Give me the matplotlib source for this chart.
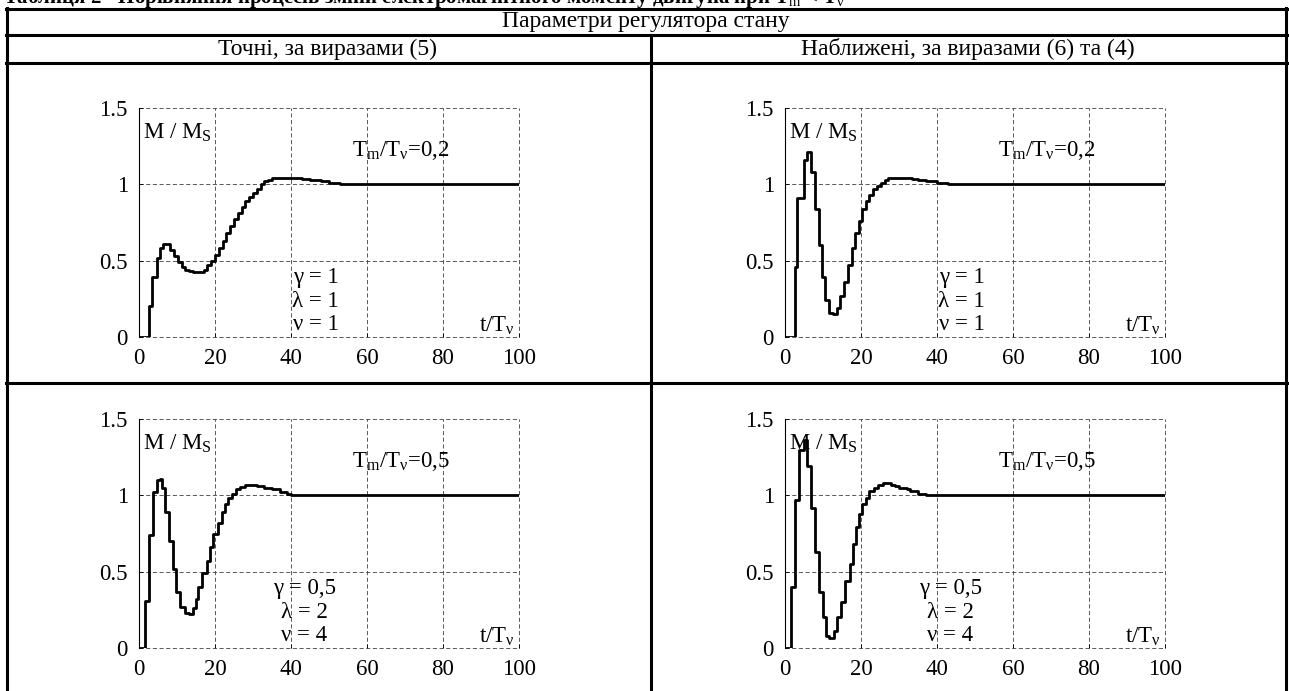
import matplotlib
matplotlib.use('Agg')
import matplotlib.pyplot as plt
from matplotlib.lines import Line2D

plt.rcParams['font.family'] = ['Liberation Serif', 'DejaVu Serif']
plt.rcParams['mathtext.fontset'] = 'custom'
plt.rcParams['mathtext.rm'] = 'Liberation Serif'
plt.rcParams['mathtext.it'] = 'Liberation Serif:italic'

W, H = 1289, 691

# --- data (t/T_v, M/M_S), staircase samples ---
t_exact_1 = [0, 2.7, 3.5, 4.7, 5.4, 6.2, 8.2, 9.2, 10.2, 11.2, 12.2, 13.2, 14.2, 17, 18, 19, 20, 21, 22, 23,
             24, 25, 26, 27, 28, 29, 30, 31, 32, 33, 34, 35, 43, 45, 48, 50, 53, 56, 78, 100]
m_exact_1 = [0, 0.2, 0.39, 0.52, 0.58, 0.61, 0.57, 0.53, 0.49, 0.46, 0.44, 0.43, 0.425, 0.44, 0.47, 0.5, 0.54,
             0.58, 0.63, 0.68, 0.73, 0.77, 0.81, 0.85, 0.89, 0.92, 0.94, 0.97, 1.0, 1.02, 1.03, 1.04, 1.035,
             1.03, 1.02, 1.01, 1.005, 1.0, 1.005, 1.005]

t_appr_1 = [0, 2.5, 3.2, 5.0, 5.8, 6.8, 7.8, 9.0, 9.7, 10.6, 11.6, 12.7, 13.6, 14.5, 15.4, 16.7, 17.6, 18.4,
            19.4, 20.3, 21.4, 22.2, 23.1, 24.1, 25.2, 26.2, 27.2, 33.5, 35, 37, 40, 43, 46, 64, 82, 100]
m_appr_1 = [0, 0.46, 0.91, 1.16, 1.21, 1.08, 0.84, 0.6, 0.39, 0.24, 0.16, 0.15, 0.19, 0.27, 0.36, 0.47, 0.58,
            0.68, 0.76, 0.84, 0.89, 0.93, 0.97, 0.99, 1.01, 1.03, 1.04, 1.035, 1.03, 1.02, 1.01, 1.005, 1.0,
            1.005, 1.0, 1.0]

t_exact_2 = [0, 1.7, 2.7, 3.8, 4.7, 5.4, 6.0, 6.9, 7.8, 9.0, 9.8, 10.9, 12.0, 13.1, 14.2, 14.9, 15.6, 16.7,
             18.0, 18.7, 19.6, 20.7, 21.8, 22.5, 23.4, 24.5, 25.6, 26.7, 27.8, 31, 33, 35, 37, 39, 40, 55, 71,
             86, 100]
m_exact_2 = [0, 0.31, 0.74, 1.02, 1.1, 1.11, 1.05, 0.89, 0.7, 0.52, 0.37, 0.27, 0.23, 0.22, 0.26, 0.32, 0.4,
             0.49, 0.57, 0.66, 0.75, 0.82, 0.89, 0.94, 0.98, 1.01, 1.04, 1.055, 1.065, 1.06, 1.05, 1.04, 1.02,
             1.01, 1.0, 1.005, 1.0, 1.005, 1.005]

t_appr_2 = [0, 1.5, 2.5, 3.7, 5.0, 5.8, 6.8, 7.9, 9.0, 10.0, 10.8, 11.7, 13.0, 13.8, 14.7, 15.7, 17.0, 17.9,
            18.7, 19.4, 20.3, 21.4, 22.2, 23.3, 24.6, 25.7, 28, 29, 30, 32, 33, 35, 37, 51, 65, 79, 92, 100]
m_appr_2 = [0, 0.4, 0.97, 1.3, 1.36, 1.19, 0.92, 0.63, 0.37, 0.2, 0.08, 0.065, 0.11, 0.2, 0.3, 0.44, 0.55,
            0.68, 0.79, 0.88, 0.94, 0.98, 1.03, 1.05, 1.07, 1.08, 1.07, 1.06, 1.05, 1.04, 1.03, 1.01, 1.0,
            1.005, 1.0, 1.005, 1.0, 1.0]

ratio_labels = ['0,2', '0,2', '0,5', '0,5']
gamma_labels = ['1', '1', '0,5', '0,5']
lambda_labels = ['1', '1', '2', '2']
nu_labels = ['1', '1', '4', '4']

title = 'Таблиця 2 - Порівняння процесів зміни електромагнітного моменту двигуна при T$_\\mathrm{m}$ < T$_\\mathrm{ν}$'
header_top = 'Параметри регулятора стану'
header_left = 'Точні, за виразами (5)'
header_right = 'Наближені, за виразами (6) та (4)'

x_ticks = [0, 20, 40, 60, 80, 100]
y_ticks = [0, 0.5, 1, 1.5]
y_tick_labels = ['0', '0.5', '1', '1.5']

curves = [(t_exact_1, m_exact_1), (t_appr_1, m_appr_1), (t_exact_2, m_exact_2), (t_appr_2, m_appr_2)]

fig = plt.figure(figsize=(W / 100, H / 100), dpi=100)


def fx(px):
    return px / W


def fy(py):
    return 1 - py / H


def hline(y, x0, x1, lw=2.2):
    fig.add_artist(Line2D([fx(x0), fx(x1)], [fy(y), fy(y)], color='black', lw=lw))


def vline(x, y0, y1, lw=2.2):
    fig.add_artist(Line2D([fx(x), fx(x)], [fy(y0), fy(y1)], color='black', lw=lw))


# table frame
hline(9, 6, 1287)
hline(35, 6, 1287)
hline(63, 6, 1287)
hline(383, 6, 1287)
vline(7, 8, 691)
vline(1286, 8, 691)
vline(651, 35, 691)

fig.text(fx(3), fy(3), title, fontsize=15, fontweight='bold', ha='left', va='baseline')
fig.text(fx(646), fy(22), header_top, fontsize=17, ha='center', va='center')
fig.text(fx(328), fy(49), header_left, fontsize=17, ha='center', va='center')
fig.text(fx(968), fy(49), header_right, fontsize=17, ha='center', va='center')

# axes boxes (left, top) in pixels
boxes = [(139, 108), (785, 108), (139, 419), (785, 419)]
aw, ah = 380, 229

for i, (t, m) in enumerate(curves):
    left, top = boxes[i]
    ax = fig.add_axes([fx(left), fy(top + ah), aw / W, ah / H])
    ax.step(t, m, where='post', color='black', lw=2.0)
    ax.set_xlim(0, 100)
    ax.set_ylim(0, 1.5)
    ax.set_xticks(x_ticks)
    ax.set_yticks(y_ticks)
    ax.set_yticklabels(y_tick_labels)
    ax.tick_params(direction='in', length=3, width=0.6, labelsize=16.5, pad=8)
    for s in ['top', 'right', 'bottom']:
        ax.spines[s].set_visible(False)
    ax.spines['left'].set_linewidth(0.8)
    ax.grid(True, color='0.25', lw=0.6, linestyle=(0, (5, 3)))
    for gl in ax.get_xgridlines() + ax.get_ygridlines():
        gl.set_clip_on(False)

    ax.text(1, 1.34, 'M / M$_\\mathrm{S}$', fontsize=16.5, ha='left', va='center')
    ax.text(56, 1.22, 'T$_\\mathrm{m}$/T$_\\mathrm{ν}$=' + ratio_labels[i], fontsize=16.5, ha='left', va='center')
    cx = 46.5 if i < 2 else 43.5
    ax.text(cx, 0.39, 'γ = ' + gamma_labels[i], fontsize=16.5, ha='center', va='center')
    ax.text(cx, 0.235, 'λ = ' + lambda_labels[i], fontsize=16.5, ha='center', va='center')
    ax.text(cx, 0.08, 'ν = ' + nu_labels[i], fontsize=16.5, ha='center', va='center')
    ax.text(99, 0.07, 't/T$_\\mathrm{ν}$', fontsize=16.5, ha='right', va='center')

fig.savefig('out.png', dpi=100)
